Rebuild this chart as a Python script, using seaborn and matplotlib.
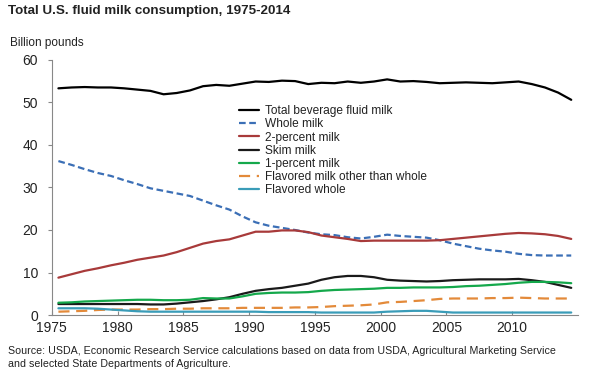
import numpy as np
import pandas as pd
import matplotlib
matplotlib.use("Agg")
import matplotlib.pyplot as plt
import seaborn as sns

years = list(range(1975, 2015))

total = [53.3, 53.5, 53.6, 53.5, 53.5, 53.3, 53.0, 52.7, 51.9, 52.2,
         52.8, 53.8, 54.1, 53.9, 54.4, 54.9, 54.8, 55.1, 55.0, 54.3,
         54.6, 54.5, 54.9, 54.6, 54.9, 55.4, 54.9, 55.0, 54.8, 54.5,
         54.6, 54.7, 54.6, 54.5, 54.7, 54.9, 54.3, 53.5, 52.3, 50.6]
whole = [36.2, 35.3, 34.3, 33.4, 32.7, 31.7, 30.8, 29.8, 29.2, 28.6,
         28.0, 26.9, 25.8, 24.8, 23.2, 21.8, 21.0, 20.5, 20.0, 19.4,
         19.0, 18.8, 18.3, 18.0, 18.4, 18.9, 18.6, 18.4, 18.2, 17.6,
         16.8, 16.2, 15.6, 15.2, 14.9, 14.4, 14.1, 14.0, 14.0, 14.0]
two_pct = [8.8, 9.6, 10.4, 11.0, 11.7, 12.3, 13.0, 13.5, 14.0, 14.8,
           15.8, 16.8, 17.4, 17.8, 18.7, 19.6, 19.6, 19.9, 19.9, 19.5,
           18.7, 18.3, 17.9, 17.4, 17.5, 17.5, 17.5, 17.5, 17.5, 17.6,
           17.9, 18.2, 18.5, 18.8, 19.1, 19.3, 19.2, 19.0, 18.6, 17.9]
skim = [2.6, 2.6, 2.6, 2.6, 2.6, 2.6, 2.6, 2.5, 2.5, 2.7,
        3.0, 3.3, 3.7, 4.2, 5.0, 5.7, 6.1, 6.4, 6.9, 7.4,
        8.3, 8.9, 9.2, 9.2, 8.9, 8.3, 8.1, 8.0, 7.9, 8.0,
        8.2, 8.3, 8.4, 8.4, 8.4, 8.5, 8.2, 7.8, 7.1, 6.4]
one_pct = [2.9, 3.0, 3.2, 3.3, 3.4, 3.5, 3.6, 3.6, 3.5, 3.5,
           3.6, 4.0, 3.9, 3.9, 4.4, 5.0, 5.2, 5.3, 5.3, 5.4,
           5.7, 5.9, 6.0, 6.1, 6.2, 6.4, 6.4, 6.5, 6.5, 6.5,
           6.6, 6.8, 6.9, 7.1, 7.3, 7.6, 7.8, 7.8, 7.7, 7.5]
flav_other = [0.8, 0.9, 1.0, 1.2, 1.3, 1.3, 1.3, 1.4, 1.4, 1.5,
              1.5, 1.6, 1.6, 1.6, 1.7, 1.7, 1.7, 1.7, 1.8, 1.8,
              1.9, 2.1, 2.2, 2.3, 2.5, 3.0, 3.1, 3.3, 3.5, 3.8,
              3.9, 3.9, 3.9, 4.0, 4.0, 4.1, 4.0, 3.9, 3.9, 3.9]
flav_whole = [1.6, 1.6, 1.6, 1.5, 1.3, 1.1, 0.9, 0.8, 0.8, 0.8,
              0.8, 0.8, 0.8, 0.8, 0.8, 0.8, 0.7, 0.7, 0.7, 0.7,
              0.6, 0.6, 0.6, 0.6, 0.6, 0.8, 0.9, 1.0, 1.0, 0.8,
              0.6, 0.6, 0.6, 0.6, 0.6, 0.6, 0.6, 0.6, 0.6, 0.6]

labels = ["Total beverage fluid milk", "Whole milk", "2-percent milk", "Skim milk",
          "1-percent milk", "Flavored milk other than whole", "Flavored whole"]
series = [total, whole, two_pct, skim, one_pct, flav_other, flav_whole]
colors = ["#000000", "#3b6fb6", "#a83a3a", "#1a1a1a", "#14a84b", "#e38a3a", "#3a9cb8"]
dashes = [None, (3, 1.6), None, None, None, (5, 3), None]

sns.set_style("white")
plt.rcParams["font.family"] = ["Liberation Sans", "DejaVu Sans"]

fig = plt.figure(figsize=(5.89, 3.81), dpi=100)
ax = fig.add_axes([0.088, 0.173, 0.893, 0.670])

x = np.array(years) + 0.5  # annual values centred in each year
for lab, vals, col, ds in zip(labels, series, colors, dashes):
    sns.lineplot(x=x, y=vals, ax=ax, color=col, linewidth=1.6, label=lab)
    if ds is not None:
        ax.lines[-1].set_dashes(ds)

ax.set_xlim(1975, 2015)
ax.set_ylim(0, 60)
ax.set_xticks(range(1975, 2011, 5))
ax.set_yticks(range(0, 61, 10))
ax.set_xlabel("")
ax.set_ylabel("")
for s in ["top", "right"]:
    ax.spines[s].set_visible(False)
for s in ["left", "bottom"]:
    ax.spines[s].set_color("#888888")
    ax.spines[s].set_linewidth(0.8)
ax.tick_params(axis="y", left=True, length=3, width=0.8, color="#888888",
               labelsize=10, pad=7, labelcolor="#222222")
ax.tick_params(axis="x", bottom=True, direction="in", length=3, width=0.8,
               color="#888888", labelsize=10, pad=4, labelcolor="#222222")

leg = ax.legend(loc="upper left", bbox_to_anchor=(0.355, 0.822), frameon=False,
                fontsize=8.55, handlelength=1.7, handletextpad=0.56, labelspacing=0.1,
                borderpad=0, borderaxespad=0)
for t in leg.get_texts():
    t.set_color("#222222")

fig.text(0.014, 0.970, "Total U.S. fluid milk consumption, 1975-2014",
         fontsize=9.6, fontweight="bold", va="center", ha="left", color="#222222")
fig.text(0.017, 0.887, "Billion pounds", fontsize=8.5, va="center", ha="left",
         color="#222222")
fig.text(0.014, 0.093, "Source: USDA, Economic Research Service calculations based on data from USDA, Agricultural Marketing Service\nand selected State Departments of Agriculture.",
         fontsize=7.7, va="top", ha="left", color="#222222", linespacing=1.42)

fig.savefig("out.png", dpi=100)
